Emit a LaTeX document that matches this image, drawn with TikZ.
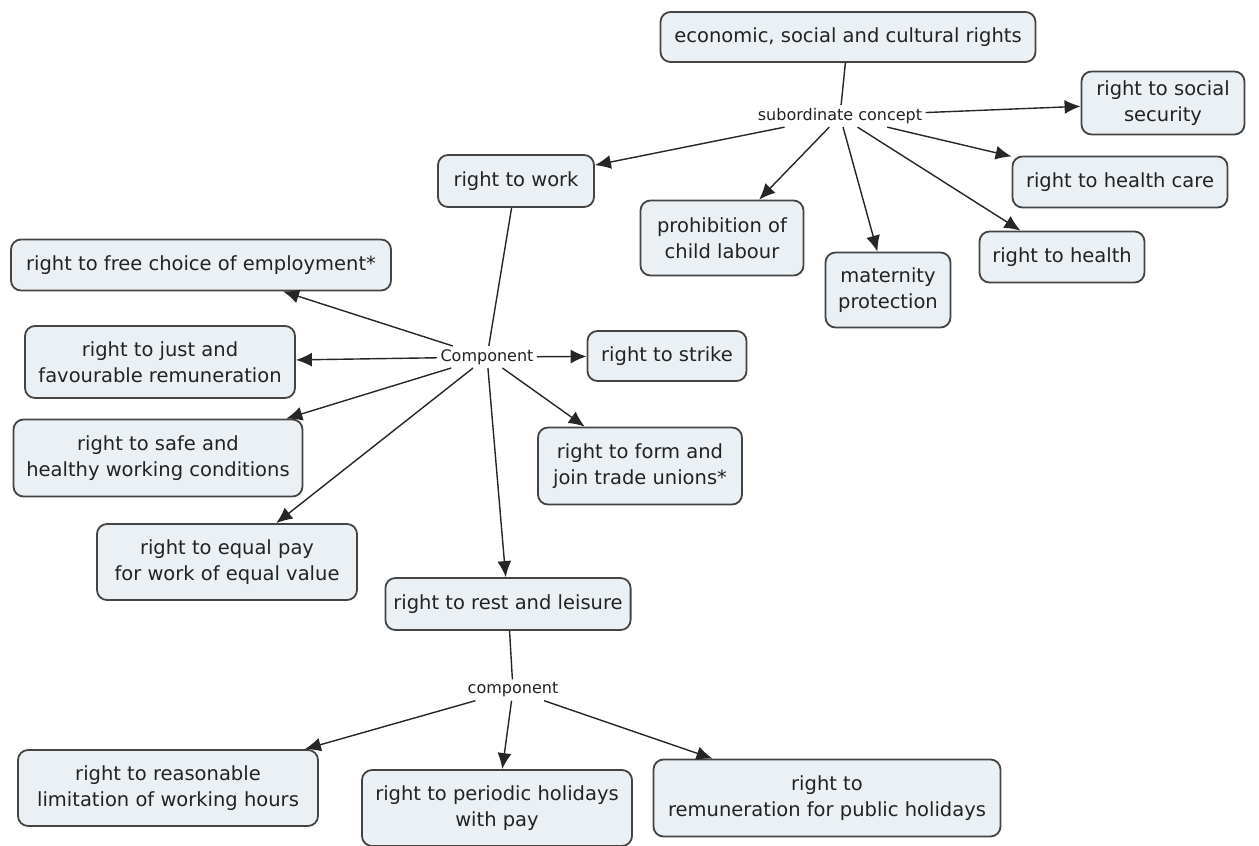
\documentclass[tikz,border=0pt]{standalone}
\usepackage{fontspec}
\setmainfont{DejaVu Sans}
\usetikzlibrary{arrows.meta}
\definecolor{boxfill}{HTML}{EAF0F4}
\definecolor{boxline}{HTML}{444444}
\definecolor{inktext}{HTML}{222222}
\tikzset{
  concept/.style={draw=boxline, line width=0.9pt, fill=boxfill, rounded corners=5pt,
    align=center, text=inktext, inner xsep=4pt, inner ysep=3pt,
    font=\fontsize{9.75}{13}\selectfont},
  linkword/.style={inner sep=1.5pt, text=inktext, font=\fontsize{8}{9.6}\selectfont},
  link/.style={draw=black!85, line width=0.7pt},
  arrowlink/.style={link, -{Latex[length=8pt,width=7pt]}}
}
\begin{document}
\begin{tikzpicture}[x=0.5pt, y=-0.5pt]
\useasboundingbox (0,0) rectangle (1259,846);
\fill[white] (0,0) rectangle (1259,846);

% concepts: position, then box size in picture units
\node[concept, minimum width=187.5pt, minimum height=25pt] (esc) at (848,37) {economic, social and cultural rights};
\node[concept, minimum width=81.5pt, minimum height=31.5pt] (socsec) at (1163,103) {right to social\\security};
\node[concept, minimum width=107.5pt, minimum height=25.5pt] (hcare) at (1120,182) {right to health care};
\node[concept, minimum width=82.5pt, minimum height=25.5pt] (health) at (1062,257) {right to health};
\node[concept, minimum width=62.5pt, minimum height=37.5pt] (matern) at (888,290) {maternity\\protection};
\node[concept, minimum width=81.5pt, minimum height=37.5pt] (child) at (722,238) {prohibition of\\child labour};
\node[concept, minimum width=78pt, minimum height=26pt] (work) at (516,181) {right to work};
\node[concept, minimum width=190pt, minimum height=25.5pt] (free) at (201,265) {right to free choice of employment*};
\node[concept, minimum width=135pt, minimum height=36pt] (just) at (160,362) {right to just and\\favourable remuneration};
\node[concept, minimum width=144.5pt, minimum height=38.5pt] (safe) at (158,458) {right to safe and\\healthy working conditions};
\node[concept, minimum width=130pt, minimum height=38pt] (equal) at (227,562) {right to equal pay\\for work of equal value};
\node[concept, minimum width=79.5pt, minimum height=25pt] (strike) at (667,356) {right to strike};
\node[concept, minimum width=102pt, minimum height=38.5pt] (unions) at (640,466) {right to form and\\join trade unions*};
\node[concept, minimum width=121.5pt, minimum height=26pt] (rest) at (508,604) {right to rest and leisure};
\node[concept, minimum width=150pt, minimum height=38pt] (hours) at (168,788) {right to reasonable\\limitation of working hours};
\node[concept, minimum width=135pt, minimum height=38pt] (periodic) at (497,808) {right to periodic holidays\\with pay};
\node[concept, minimum width=173.5pt, minimum height=38.5pt] (publichol) at (827,798) {right to\\remuneration for public holidays};

% linking phrases
\node[linkword] (sub) at (840,116) {subordinate concept};
\node[linkword] (compA) at (487,357) {Component};
\node[linkword] (compB) at (513,690) {component};

% economic, social and cultural rights
\draw[link] (esc) -- (sub);
\draw[arrowlink] (sub) -- (work);
\draw[arrowlink] (sub) -- (socsec);
\draw[arrowlink] (sub) -- (hcare);
\draw[arrowlink] (sub) -- (health);
\draw[arrowlink] (sub) -- (matern);
\draw[arrowlink] (sub) -- (child);

% right to work
\draw[link] (work) -- (compA);
\draw[arrowlink] (compA) -- (free);
\draw[arrowlink] (compA) -- (just);
\draw[arrowlink] (compA) -- (safe);
\draw[arrowlink] (compA) -- (equal);
\draw[arrowlink] (compA) -- (strike);
\draw[arrowlink] (compA) -- (unions);
\draw[arrowlink] (compA) -- (rest);

% right to rest and leisure
\draw[link] (rest) -- (compB);
\draw[arrowlink] (compB) -- (hours);
\draw[arrowlink] (compB) -- (periodic);
\draw[arrowlink] (compB) -- (publichol);
\end{tikzpicture}
\end{document}
